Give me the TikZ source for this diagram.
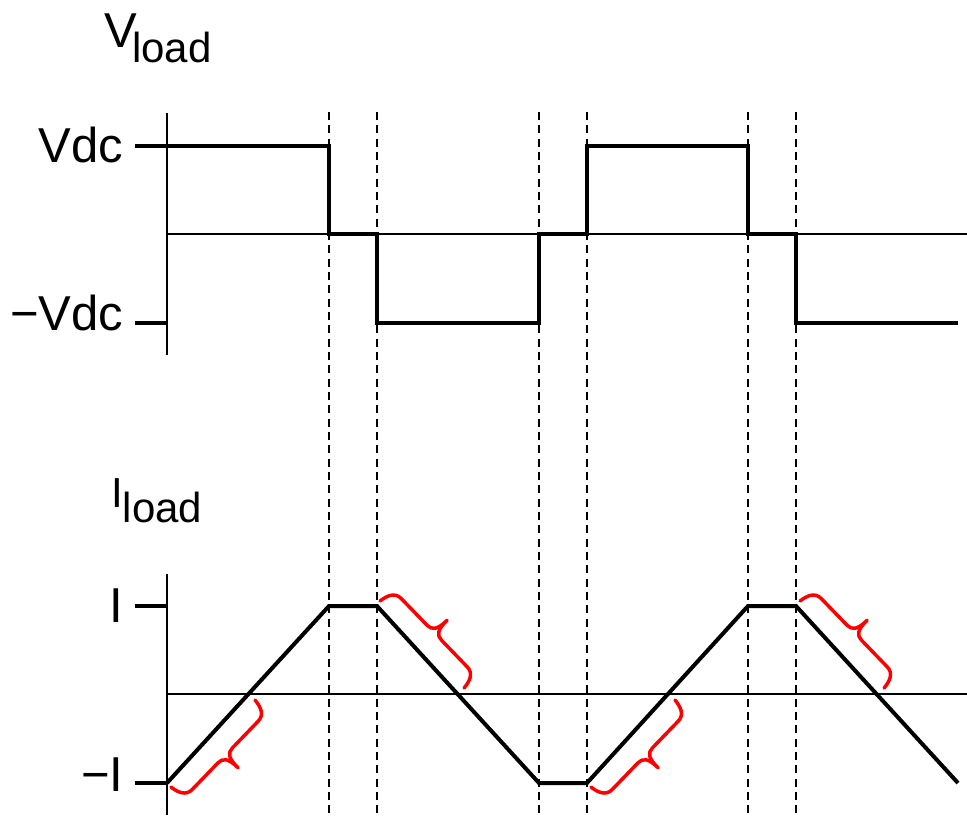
\documentclass[tikz,border=0pt]{standalone}
\usepackage{fontspec}
\setmainfont{Liberation Sans}
\begin{document}
\begin{tikzpicture}[x=0.75pt,y=0.75pt,
  axisline/.style={line width=1.2pt},
  wave/.style={line width=3pt, line join=miter},
  tickline/.style={line width=3pt},
  guide/.style={line width=1.2pt, dash pattern=on 6pt off 4pt},
  bracestyle/.style={red, line width=2.6pt, line cap=round, line join=round},
  lbl/.style={inner sep=0pt, anchor=base east, font=\fontsize{36.75}{44}\selectfont},
  ttl/.style={inner sep=0pt, anchor=base west},
  rbrace/.pic={\draw[bracestyle] (0,0) .. controls (1,9) and (4,17) .. (13,17)
      -- (50,17) .. controls (57,17) and (60.5,21) .. (60.5,35)
      .. controls (60.5,21) and (64,17) .. (71,17)
      -- (108,17) .. controls (117,17) and (120,9) .. (121,0);}
]
\useasboundingbox (0,0) rectangle (967,-815);

% guide lines
\foreach \gx in {329,377,539,587,748,796}
  \draw[guide] (\gx,-112) -- (\gx,-815);

% titles
\node[ttl] (vtitle) at (104.5,-47) {\fontsize{36.75}{44}\selectfont V\kern-3.9pt\raisebox{-11.25pt}{\fontsize{31.5}{38}\selectfont load}};
\node[ttl] (ititle) at (111,-507) {\fontsize{31.5}{38}\selectfont I\raisebox{-11.25pt}{\fontsize{31.5}{38}\selectfont load}};

% top axes
\draw[axisline] (167,-113) -- (167,-355);
\draw[axisline] (167,-234) -- (967,-234);
\draw[tickline] (135,-146) -- (167,-146);
\draw[tickline] (135,-323) -- (167,-323);
\node[lbl] (vdc) at (123.5,-162) {Vdc};
\node[lbl] (mvdc) at (123.5,-330) {−Vdc};

% voltage waveform
\draw[wave] (167,-146) -- (329,-146) -- (329,-234) -- (377,-234) -- (377,-323)
  -- (539,-323) -- (539,-234) -- (587,-234) -- (587,-146) -- (748,-146)
  -- (748,-234) -- (796,-234) -- (796,-323) -- (958,-323);

% bottom axes
\draw[axisline] (167,-574) -- (167,-815);
\draw[axisline] (167,-694) -- (967,-694);
\draw[tickline] (135,-606) -- (167,-606);
\draw[tickline] (135,-783) -- (167,-783);
\node[lbl] (ipos) at (123.5,-622) {I};
\node[lbl] (ineg) at (123.5,-791) {−I};

% current waveform
\draw[wave] (167,-783) -- (329,-606) -- (377,-606) -- (539,-783) -- (587,-783)
  -- (748,-606) -- (796,-606) -- (958,-783);

% braces
\pic[rotate=226] at (255,-700) {rbrace};
\pic[rotate=-46] at (380,-601) {rbrace};
\pic[rotate=226] at (675,-700) {rbrace};
\pic[rotate=-46] at (800,-601) {rbrace};
\end{tikzpicture}
\end{document}
